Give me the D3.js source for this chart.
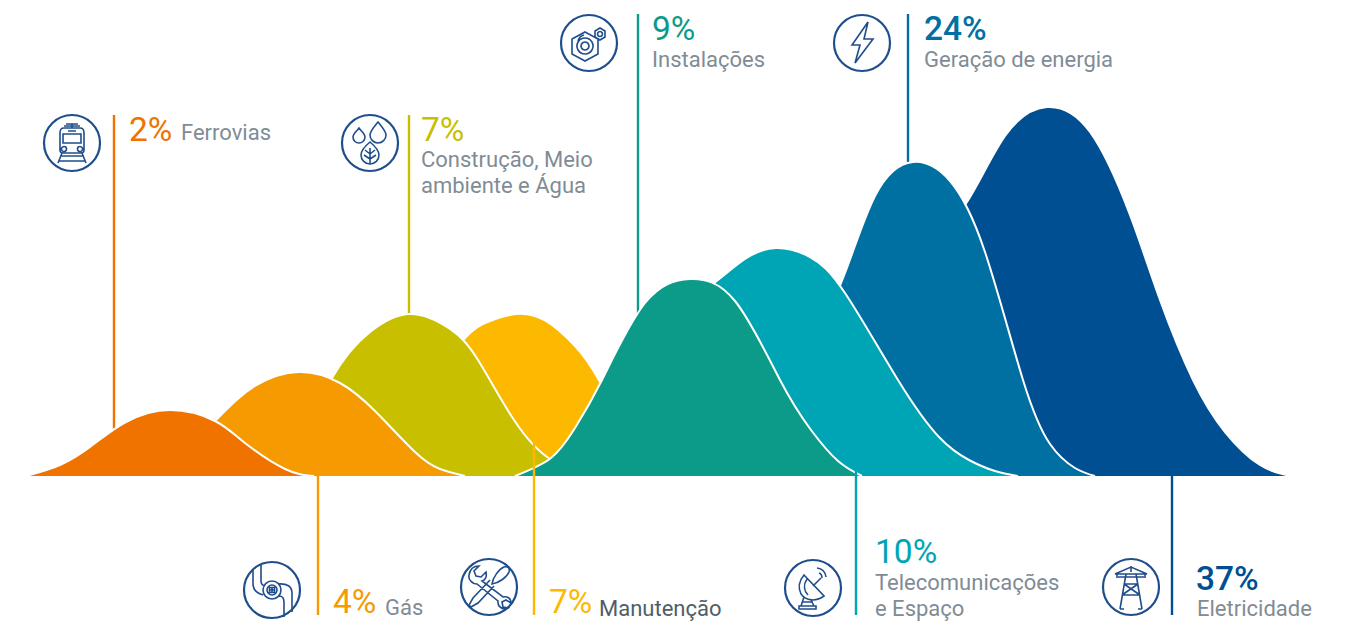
<!DOCTYPE html>
<html><head><meta charset="utf-8">
<script src="https://cdn.jsdelivr.net/npm/d3@7"></script>
<style>html,body{margin:0;padding:0;background:#fff;overflow:hidden}svg{display:block}text{font-family:Roboto,sans-serif}</style>
</head><body><svg id="c" width="1348" height="621"></svg>
<script>
// Curve outlines: position along the strip, height above the baseline
const eletricidadeX=[890,930,965,1005,1047,1090,1130,1160,1193,1225,1260,1291];
const eletricidadeH=[0,207,271,340,369,344,261,176,96,44,11,0];
const geracaoX=[775,810,841,875,913,950,985,1023,1050,1075,1095];
const geracaoH=[0,127,193,280,314,295,224,96,32,8,0];
const telecomX=[645,680,714,745,776,810,845,898,939,969,995,1018];
const telecomH=[0,146,193,217,228,219,183,96,39,16,5,0];
const manutencaoX=[385,425,465,490,516,545,575,600,640,680];
const manutencaoH=[0,82,138,155,162,155.5,130,94,26,0];
const construcaoX=[285,332,370,410,450,478,514,550,585,612];
const construcaoH=[0,98,144,162,147,116,56,17,4,0];
const gasX=[160,216,255,299,340,375,415,440,465];
const gasH=[0,56,90,104,93,65,24,7,0];
const ferroviasX=[26,60,90,125,170,215,245,285,314];
const ferroviasH=[0,11,29,53.5,66,55,33,7,0];
const instalacoesX=[515,551,575,602,645,690,735,780,811,838,862];
const instalacoesH=[0,18,48,96,173,197,175,96,46,15,0];

const layers=[
 {x:eletricidadeX,h:eletricidadeH,c:"#004f92"},
 {x:geracaoX,h:geracaoH,c:"#0070a3"},
 {x:telecomX,h:telecomH,c:"#00a5b5"},
 {x:manutencaoX,h:manutencaoH,c:"#fcb900"},
 {x:construcaoX,h:construcaoH,c:"#c8bf00"},
 {x:gasX,h:gasH,c:"#f59a00"},
 {x:ferroviasX,h:ferroviasH,c:"#f07300"},
 {x:instalacoesX,h:instalacoesH,c:"#0b9b88"}
];

const percents=["2%","4%","7%","7%","9%","10%","24%","37%"];
const pctColors=["#f07300","#f59a00","#c8bf00","#fcb900","#0b9b88","#00a5b5","#0070a3","#004f92"];
const labels=[["Ferrovias"],["Gás"],["Construção, Meio","ambiente e Água"],["Manutenção"],["Instalações"],["Telecomunicações","e Espaço"],["Geração de energia"],["Eletricidade"]];

const svg=d3.select("#c");
const xs=d3.scaleLinear().domain([0,1348]).range([0,1348]);
const ys=d3.scaleLinear().domain([0,476]).range([476,0]);

const leaders=[
 {x:114,y1:115,y2:430,c:"#f07300",over:false},
 {x:409,y1:115,y2:316,c:"#c8bf00",over:false},
 {x:638,y1:14,y2:318,c:"#0b9b88",over:false},
 {x:908,y1:14,y2:165,c:"#0070a3",over:false},
 {x:318,y1:476,y2:615,c:"#f59a00",over:true},
 {x:534,y1:441,y2:615,c:"#fcb900",over:true},
 {x:856,y1:471,y2:615,c:"#00a5b5",over:true},
 {x:1172,y1:476,y2:615,c:"#004f92",over:true}
];
const drawLeaders=o=>svg.append("g").selectAll("line").data(leaders.filter(d=>d.over===o)).join("line")
 .attr("x1",d=>d.x).attr("x2",d=>d.x).attr("y1",d=>d.y1).attr("y2",d=>d.y2)
 .attr("stroke",d=>d.c).attr("stroke-width",2.4);
drawLeaders(false);

const curve=d3.curveNatural;
const area=d3.area().x(d=>xs(d[0])).y0(ys(0)).y1(d=>ys(d[1])).curve(curve);
const line=d3.line().x(d=>xs(d[0])).y(d=>ys(d[1])).curve(curve);
layers.forEach((l,i)=>{
 const pts=d3.zip(l.x,l.h);
 const id="clip"+i;
 svg.append("clipPath").attr("id",id).append("rect").attr("x",0).attr("y",0).attr("width",1348).attr("height",ys(0));
 const g=svg.append("g").attr("clip-path",`url(#${id})`);
 g.append("path").attr("d",area(pts)).attr("fill",l.c);
 g.append("path").attr("d",line(pts)).attr("fill","none").attr("stroke","#fff").attr("stroke-width",2);
});
drawLeaders(true);

const gray="#7f8c96";
const blocks=[
 {i:0,px:129,py:141,lx:181,ly:[140]},
 {i:1,px:333,py:613,lx:385,ly:[615]},
 {i:2,px:421,py:141,lx:421,ly:[167,193]},
 {i:3,px:549,py:613,lx:599,ly:[615.5],dark:true},
 {i:4,px:652,py:40,lx:652,ly:[67]},
 {i:5,px:875,py:563,lx:875,ly:[590,615.5]},
 {i:6,px:924,py:40,lx:924,ly:[67],bold:true},
 {i:7,px:1196,py:590,lx:1197,ly:[615.5],bold:true}
];
blocks.forEach(b=>{
 svg.append("text").attr("x",b.px).attr("y",b.py).text(percents[b.i])
  .attr("fill",pctColors[b.i]).attr("font-size",33.5).attr("font-weight",b.bold?500:400);
 labels[b.i].forEach((t,j)=>svg.append("text").attr("x",b.lx).attr("y",b.ly[j]).text(t)
  .attr("fill",b.dark?"#4f5e68":gray).attr("font-size",22));
});

const blue="#1f4e8c";
const icons=[
 {cx:72,cy:143,d:"M-12,-10Q-12,-15 -8,-15H8Q12,-15 12,-10V7Q12,10 9,10H-9Q-12,10 -12,7ZM-9,-9H9V0H-9ZM-6,-19H6M-8,-17H8M0,-19V-15M-10.5,6a2.5,2.5 0 1,0 5,0a2.5,2.5 0 1,0 -5,0M5.5,6a2.5,2.5 0 1,0 5,0a2.5,2.5 0 1,0 -5,0M-10,10L-14,20M10,10L14,20M-11,13H11M-13,18H13M-4,-12H4"},
 {cx:370,cy:143,d:"M-11,-15C-14,-11 -17,-9 -17,-6a6,6 0 0,0 12,0C-5,-9 -8,-11 -11,-15ZM8,-21C4,-16 0,-12 0,-8a8,8 0 0,0 16,0C16,-12 12,-16 8,-21ZM0,-1C-6,4 -9,8 -9,12a9,9 0 0,0 18,0C9,8 6,4 0,-1ZM0,5V21M0,11L-5,7M0,11L5,7M0,16L-6,12M0,16L6,12"},
 {cx:589,cy:43,d:"M-4,-11L9,-4V11L-4,18L-17,11V-4ZM-4,-5a8,8 0 1,0 .01,0ZM-4,-1a4,4 0 1,0 .01,0ZM11,-15L16,-12V-6L11,-3L6,-6V-12ZM11,-11.5a2.5,2.5 0 1,0 .01,0ZM-11,-2A8,8 0 0,1 -5,-8"},
 {cx:862,cy:43,d:"M6,-21L-10,2H-2L-7,20L11,-4H2Z"},
 {cx:272,cy:590,d:"M-19,-20V-6Q-19,2 -9,5M-11,-26V-9Q-11,-5 -7,-4M6,-6Q20,-7 20,3V22M7,6Q12,6 12,12V27M-9,0a9,9 0 1,0 18,0a9,9 0 1,0 -18,0M-5,0a5,5 0 1,0 10,0a5,5 0 1,0 -10,0M-2.5,-2.5H2.5V2.5H-2.5ZM0,-2.5V2.5M-2.5,0H2.5"},
 {cx:489,cy:587,d:"M-10,-21L-15,-16L-13,-11L-8,-10L-3,-15C-2,-10 -4,-7 -7,-6L14,10C18,9 22,11 22,16L17,13L13,15L14,20L19,21C14,24 8,19 9,14L-12,-3C-17,-3 -21,-8 -20,-12C-19,-18 -15,-21 -10,-21ZM3,-3C4,-10 10,-18 15,-20C19,-21 21,-19 20,-15C18,-10 10,-4 3,-3ZM1,-7L-16,11L-20,18L-18,20L-11,16L5,-1"},
 {cx:813,cy:588,d:"M-9,-13L11,8C3,14 -7,13 -12,6C-15,0 -14,-7 -9,-13ZM-6,-9C-10,-3 -9,3 -5,7M0,-2L8,-10M4,-20Q12,-19 13,-11M6,-15Q9,-14 9,-10M-9,9L-12,18M-2,12L1,18M-14,18H3V21H-14ZM-10,14H0"},
 {cx:1131,cy:587,d:"M0,-21V-15M-16,-13H16L0,-20ZM-14,-13V-9M14,-13V-9M-5,-13L-11,22M5,-13L11,22M-7,-3H7M-9,8H9M-7,-3L9,8M7,-3L-9,8M-11,22H-7M7,22H11M-13,-10H13"}
];
icons.forEach(ic=>{
 const g=svg.append("g").attr("transform",`translate(${ic.cx},${ic.cy})`);
 g.append("circle").attr("r",28).attr("fill","#fff").attr("stroke",blue).attr("stroke-width",2.2);
 g.append("path").attr("d",ic.d).attr("fill","none").attr("stroke",blue).attr("stroke-width",1.6);
});
</script></body></html>
